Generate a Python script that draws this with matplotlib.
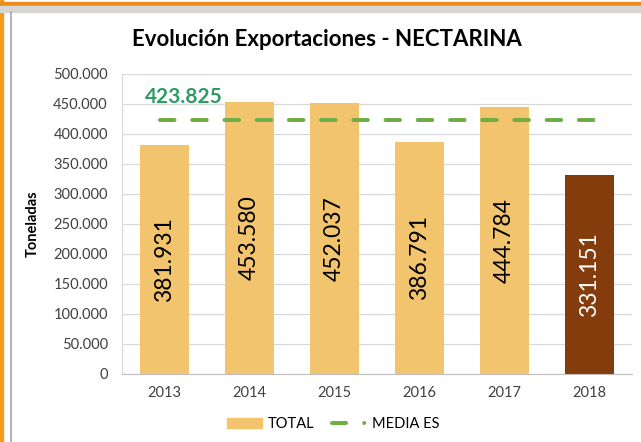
import matplotlib.pyplot as plt
import matplotlib.patches as mpatches
from matplotlib.lines import Line2D
from matplotlib.ticker import FuncFormatter

years = ['2013', '2014', '2015', '2016', '2017', '2018']
toneladas = [381931, 453580, 452037, 386791, 444784, 331151]
media_es = 423825

gold = '#F2C46D'
brown = '#843C0C'
green = '#70AD47'


def miles(v):
    return f'{int(v):,}'.replace(',', '.')


plt.rcParams['font.family'] = ['Lato', 'DejaVu Sans']

fig = plt.figure(figsize=(6.41, 4.42), dpi=100)

# orange frame and grey border around the chart
fig.patches.append(mpatches.Rectangle((0, 0), 0.004, 1, transform=fig.transFigure,
                                      color='#F39A1C', zorder=0))
fig.patches.append(mpatches.Rectangle((0, 0.9864), 1, 0.0091, transform=fig.transFigure,
                                      color='#E98E1A', zorder=0))
fig.patches.append(mpatches.Rectangle((0, 0.973), 1, 0.0134, transform=fig.transFigure,
                                      color='#D6D6D6', zorder=0))
fig.add_artist(Line2D([0.017, 0.017], [0, 0.973], transform=fig.transFigure,
                      color='#A6A6A6', lw=1.2))

ax = fig.add_axes([0.19, 0.154, 0.796, 0.679])
x = range(len(years))
colors = [gold] * (len(years) - 1) + [brown]
bars = ax.bar(x, toneladas, width=0.58, color=colors, zorder=2)

for b, v, c in zip(bars, toneladas, colors):
    ax.text(b.get_x() + b.get_width() / 2, v / 2, miles(v),
            rotation=90, ha='center', va='center', fontsize=16.5,
            color='white' if c == brown else 'black', zorder=3)

# average line
ax.plot([-0.05, 5.05], [media_es, media_es], color=green, lw=2.9,
        dashes=(3.6, 4.4), dash_capstyle='round', zorder=4)
ax.text(-0.23, 451500, miles(media_es), color='#2E9B62', fontsize=15,
        fontweight='bold', ha='left', va='baseline')

ax.set_xlim(-0.5, 5.5)
ax.set_ylim(0, 500000)
ax.set_yticks(range(0, 500001, 50000))
ax.yaxis.set_major_formatter(FuncFormatter(lambda v, p: miles(v)))
ax.set_xticks(list(x))
ax.set_xticklabels(years)
ax.tick_params(axis='both', length=0, labelsize=10.5, colors='#404040')
ax.tick_params(axis='y', pad=10)
ax.tick_params(axis='x', pad=9)
ax.grid(axis='y', color='#D9D9D9', lw=0.9, zorder=0)
for s in ['top', 'right']:
    ax.spines[s].set_visible(False)
ax.spines['left'].set_color('#D9D9D9')
ax.spines['bottom'].set_color('#BFBFBF')

ax.set_ylabel('Toneladas', fontsize=10.5, fontweight='bold')
ax.yaxis.set_label_coords(-0.16, 0.5)
fig.suptitle('Evolución Exportaciones - NECTARINA', x=0.51, y=0.935,
             fontsize=16, fontweight='bold')

handles = [mpatches.Patch(color=gold, label='TOTAL'),
           Line2D([0], [0], color=green, lw=2.9, dashes=(3.5, 4.5, 0.01, 10),
                  dash_capstyle='round', label='MEDIA ES')]
fig.legend(handles=handles, loc='lower center', bbox_to_anchor=(0.52, -0.005),
           ncol=2, frameon=False, fontsize=10.5, handlelength=2.4,
           columnspacing=1.2, handletextpad=0.4)

fig.savefig('out.png', dpi=100)
